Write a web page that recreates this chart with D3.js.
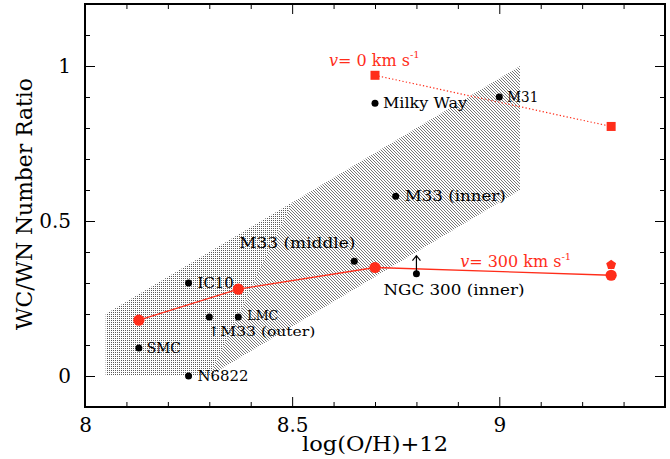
<!DOCTYPE html>
<html>
<head>
<meta charset="utf-8">
<script src="https://cdn.jsdelivr.net/npm/d3@7"></script>
<style>
  body { margin: 0; background: #fff; }
  svg { display: block; }
  text { font-family: "DejaVu Serif", "Liberation Serif", serif; }
</style>
</head>
<body>
<script>
// Observed galaxies: WC/WN number ratio versus oxygen abundance
const galaxies    = ["Milky Way", "M31", "M33 (inner)", "M33 (middle)", "NGC 300 (inner)", "IC10", "LMC", "M33 (outer)", "SMC", "N6822"];
const galaxyOH    = [8.70, 9.00, 8.75, 8.65, 8.80, 8.25, 8.37, 8.30, 8.13, 8.25];
const galaxyRatio = [0.88, 0.90, 0.58, 0.37, 0.33, 0.30, 0.19, 0.19, 0.09, 0.00];
const lowerLimits = ["NGC 300 (inner)"];

// Evolutionary model predictions
const v300OH    = [8.13, 8.37, 8.70, 9.27];
const v300Ratio = [0.18, 0.28, 0.35, 0.325];
const v0OH      = [8.70, 9.27];
const v0Ratio   = [0.97, 0.805];
const extraOH    = [9.27];
const extraRatio = [0.36];

// Shaded range spanned by the observations
const bandLeft  = [[8.05, 0.0], [8.05, 0.2], [8.5, 0.56], [8.3, 0.0]];
const bandRight = [[8.3, 0.0], [8.5, 0.56], [9.05, 1.0], [9.05, 0.6]];

// Axes
const xDomain = [8.0, 9.4];
const yDomain = [-0.1, 1.2];
const xMajor = [8, 8.5, 9];
const yMajor = [0, 0.5, 1];
const xLabels = ["8", "8.5", "9"];
const yLabels = ["0", "0.5", "1"];
const xTitle = "log(O/H)+12";
const yTitle = "WC/WN Number Ratio";

const W = 670, H = 459;
const m = { left: 85, right: 5, top: 4, bottom: 52 };
const iw = W - m.left - m.right, ih = H - m.top - m.bottom;
const red = "#ff2d1a";

const svg = d3.select("body").append("svg").attr("width", W).attr("height", H);
const x = d3.scaleLinear().domain(xDomain).range([0, iw]);
const y = d3.scaleLinear().domain(yDomain).range([ih, 0]);
const g = svg.append("g").attr("transform", `translate(${m.left},${m.top})`);

// hatch patterns: dotted rows on the low side, diagonal lines on the high side
const defs = svg.append("defs");
const pH = defs.append("pattern").attr("id", "hatchH").attr("patternUnits", "userSpaceOnUse")
  .attr("width", 2).attr("height", 2);
pH.append("rect").attr("x", 0).attr("y", 0).attr("width", 1).attr("height", 1).attr("fill", "#5a5a5a");
const pD = defs.append("pattern").attr("id", "hatchD").attr("patternUnits", "userSpaceOnUse")
  .attr("width", 3).attr("height", 3);
pD.append("path").attr("d", "M-1,-1 L4,4 M-1,2 L1,4 M2,-1 L4,1")
  .attr("stroke", "#4a4a4a").attr("stroke-width", 0.75).attr("fill", "none");

const line = d3.line().x(d => x(d[0])).y(d => y(d[1]));
g.append("path").datum(bandLeft).attr("d", d => line(d) + "Z").attr("fill", "url(#hatchH)");
g.append("path").datum(bandRight).attr("d", d => line(d) + "Z").attr("fill", "url(#hatchD)");

// Minor / major ticks on all four sides, pointing inward
const xMinor = d3.range(81, 94).map(v => v / 10).filter(v => !xMajor.some(t => Math.abs(t - v) < 1e-6));
const yMinor = d3.range(1, 12).map(v => v / 10).filter(v => !yMajor.some(t => Math.abs(t - v) < 1e-6));

function axisStyle(sel) {
  sel.select(".domain").remove();
  sel.selectAll("line").attr("stroke", "#000").attr("stroke-width", 1);
}
const fmtX = (d) => xLabels[xMajor.indexOf(d)];
const fmtY = (d) => yLabels[yMajor.indexOf(d)];

g.append("g").attr("transform", `translate(0,${ih})`)
  .call(d3.axisBottom(x).tickValues(xMajor).tickSize(-10).tickPadding(11).tickFormat(fmtX)).call(axisStyle)
  .selectAll("text").attr("font-size", 20).attr("fill", "#000").style("font-family", "DejaVu Serif");
g.append("g").attr("transform", `translate(0,${ih})`)
  .call(d3.axisBottom(x).tickValues(xMinor).tickSize(-5).tickFormat("")).call(axisStyle);
g.append("g")
  .call(d3.axisTop(x).tickValues(xMajor).tickSize(-10).tickFormat("")).call(axisStyle);
g.append("g")
  .call(d3.axisTop(x).tickValues(xMinor).tickSize(-5).tickFormat("")).call(axisStyle);

g.append("g")
  .call(d3.axisLeft(y).tickValues(yMajor).tickSize(-10).tickPadding(14).tickFormat(fmtY)).call(axisStyle)
  .selectAll("text").attr("font-size", 20).attr("fill", "#000").style("font-family", "DejaVu Serif");
g.append("g")
  .call(d3.axisLeft(y).tickValues(yMinor).tickSize(-5).tickFormat("")).call(axisStyle);
g.append("g").attr("transform", `translate(${iw},0)`)
  .call(d3.axisRight(y).tickValues(yMajor).tickSize(-10).tickFormat("")).call(axisStyle);
g.append("g").attr("transform", `translate(${iw},0)`)
  .call(d3.axisRight(y).tickValues(yMinor).tickSize(-5).tickFormat("")).call(axisStyle);

// frame
g.append("rect").attr("width", iw).attr("height", ih)
  .attr("fill", "none").attr("stroke", "#000").attr("stroke-width", 2);

// axis titles
svg.append("text").attr("x", m.left + 290).attr("y", 451).attr("text-anchor", "middle")
  .attr("font-size", 21).attr("textLength", 146).attr("lengthAdjust", "spacingAndGlyphs").text(xTitle);
svg.append("text").attr("transform", "translate(32,204) rotate(-90)").attr("text-anchor", "middle")
  .attr("font-size", 22).attr("textLength", 252).attr("lengthAdjust", "spacingAndGlyphs").text(yTitle);

// model curves
const v0 = v0OH.map((d, i) => [d, v0Ratio[i]]);
const v300 = v300OH.map((d, i) => [d, v300Ratio[i]]);
g.append("path").datum(v0).attr("d", line).attr("fill", "none")
  .attr("stroke", red).attr("stroke-width", 1.2).attr("stroke-dasharray", "1.3,2.2");
g.append("path").datum(v300).attr("d", line).attr("fill", "none")
  .attr("stroke", red).attr("stroke-width", 1.3);
g.selectAll(".sq").data(v0).join("rect")
  .attr("x", d => x(d[0]) - 4.5).attr("y", d => y(d[1]) - 4.5)
  .attr("width", 9).attr("height", 9).attr("fill", red);
g.selectAll(".rc").data(v300).join("circle")
  .attr("cx", d => x(d[0])).attr("cy", d => y(d[1])).attr("r", 5.6).attr("fill", red);
const pent = (cx, cy, r) => d3.range(5).map(k => {
  const a = -Math.PI / 2 + k * 2 * Math.PI / 5;
  return [cx + r * Math.cos(a), cy + r * Math.sin(a)];
});
g.selectAll(".pt").data(extraOH.map((d, i) => [d, extraRatio[i]])).join("path")
  .attr("d", d => "M" + pent(x(d[0]), y(d[1]) + 0.5, 5.2).join("L") + "Z").attr("fill", red);

// model labels
function modelLabel(anchor, dx, dy, num) {
  const t = g.append("text").attr("x", x(anchor[0]) + dx).attr("y", y(anchor[1]) + dy)
    .attr("dy", "0.35em").attr("fill", red).attr("font-size", 16);
  t.append("tspan").attr("font-style", "italic").text("v");
  t.append("tspan").text("= " + num + " km s");
  t.append("tspan").attr("font-size", 10).attr("dy", "-0.75em").text("-1");
}
modelLabel(v0[0], -46, -15, "0");
modelLabel(v300[v300.length - 1], -151, -13.5, "300");

// observed galaxies
const obs = galaxies.map((n, i) => ({ name: n, oh: galaxyOH[i], r: galaxyRatio[i] }));
g.selectAll(".gal").data(obs).join("circle")
  .attr("cx", d => x(d.oh)).attr("cy", d => y(d.r)).attr("r", 3.5).attr("fill", "#000");

// lower-limit arrows
obs.filter(d => lowerLimits.includes(d.name)).forEach(d => {
  const cx = x(d.oh), cy = y(d.r);
  g.append("path").attr("d", `M${cx},${cy} V${cy - 18} M${cx - 4},${cy - 13} L${cx},${cy - 18} L${cx + 4},${cy - 13}`)
    .attr("fill", "none").attr("stroke", "#000").attr("stroke-width", 1.2);
});

const placement = {
  "Milky Way":       { dx: 8,   dy: 0,  anchor: "start", len: 84,  fs: 14 },
  "M31":             { dx: 8,   dy: 0,  anchor: "start", len: 31,  fs: 14 },
  "M33 (inner)":     { dx: 9,   dy: 0,  anchor: "start", len: 101, fs: 14 },
  "M33 (middle)":    { dx: 1,   dy: -18, anchor: "end",  len: 116, fs: 14 },
  "NGC 300 (inner)": { dx: -33, dy: 16, anchor: "start", len: 141, fs: 14 },
  "IC10":            { dx: 9,   dy: 0,  anchor: "start", len: 36,  fs: 14 },
  "LMC":             { dx: 9,   dy: -2, anchor: "start", len: 31,  fs: 13 },
  "M33 (outer)":     { dx: -2,  dy: 14, anchor: "start", len: 108, fs: 13, prefix: "\u2191" },
  "SMC":             { dx: 8,   dy: 0,  anchor: "start", len: 34,  fs: 14 },
  "N6822":           { dx: 9,   dy: 0,  anchor: "start", len: 51,  fs: 14 }
};
obs.forEach(d => {
  const p = placement[d.name];
  g.append("text").attr("x", x(d.oh) + p.dx).attr("y", y(d.r) + p.dy).attr("dy", "0.35em")
    .attr("text-anchor", p.anchor).attr("font-size", p.fs).attr("fill", "#000")
    .attr("textLength", p.len).attr("lengthAdjust", "spacingAndGlyphs")
    .text((p.prefix || "") + d.name);
});
</script>
</body>
</html>
